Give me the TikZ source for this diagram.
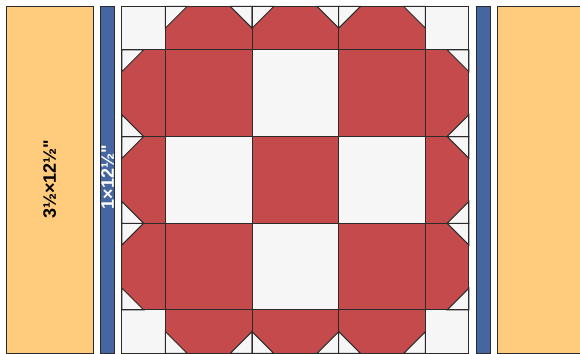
\documentclass[tikz,border=0pt]{standalone}
\usepackage{fontspec}
\newfontfamily\cutfont{Liberation Sans}
\usepackage{xcolor}
\definecolor{sashyellow}{HTML}{FFCB7C}
\definecolor{sashblue}{HTML}{4566A0}
\definecolor{blockred}{HTML}{C44A4B}
\definecolor{blockwhite}{HTML}{F6F6F6}
\definecolor{seam}{HTML}{2B2B2B}

\begin{document}
\begin{tikzpicture}[x=28.9pt,y=28.9pt,
piece/.style={draw=seam,line width=1pt},
sash/.style={piece,fill=sashyellow},
strip/.style={piece,fill=sashblue},
cutsize/.style={rotate=90,inner sep=0pt,font=\cutfont\bfseries\fontsize{18}{18}\selectfont}]
\useasboundingbox (-4.221,-0.017) rectangle (15.848,12.225);
% side panels and strips
\draw[sash] (-4,0) rectangle (-1,12);
\draw[strip] (-0.75,0) rectangle (-0.25,12);
\draw[strip] (12.25,0) rectangle (12.75,12);
\draw[sash] (13,0) rectangle (16,12);
\node[cutsize] (panelsize) at (-2.5,6.02) {3½×12½"};
\node[cutsize,text=white] (stripsize) at (-0.5,6.09) {1×12½"};
% block
\fill[blockwhite] (0,0) rectangle (12,12);
\foreach \x in {1.5,4.5,7.5}{
  \fill[blockred] (\x,0) rectangle ++(3,1.5);
  \fill[blockred] (\x,10.5) rectangle ++(3,1.5);
  \fill[blockred] (0,\x) rectangle ++(1.5,3);
  \fill[blockred] (10.5,\x) rectangle ++(1.5,3);}
\foreach \x/\y in {1.5/1.5,7.5/1.5,4.5/4.5,1.5/7.5,7.5/7.5}
  \fill[blockred] (\x,\y) rectangle ++(3,3);
% corner triangles
\foreach \c/\s in {1.5/1,4.5/-1,4.5/1,7.5/-1,7.5/1,10.5/-1}{
  \draw[piece,fill=blockwhite] (\c,12) -- ++(\s*.75,0) -- (\c,11.25) -- cycle;
  \draw[piece,fill=blockwhite] (\c,0) -- ++(\s*.75,0) -- (\c,.75) -- cycle;
  \draw[piece,fill=blockwhite] (0,\c) -- ++(0,\s*.75) -- (.75,\c) -- cycle;
  \draw[piece,fill=blockwhite] (12,\c) -- ++(0,\s*.75) -- (11.25,\c) -- cycle;}
% seams
\foreach \g in {1.5,4.5,7.5,10.5}{
  \draw[piece] (\g,0) -- (\g,12);
  \draw[piece] (0,\g) -- (12,\g);}
\draw[piece] (0,0) rectangle (12,12);
\end{tikzpicture}
\end{document}
